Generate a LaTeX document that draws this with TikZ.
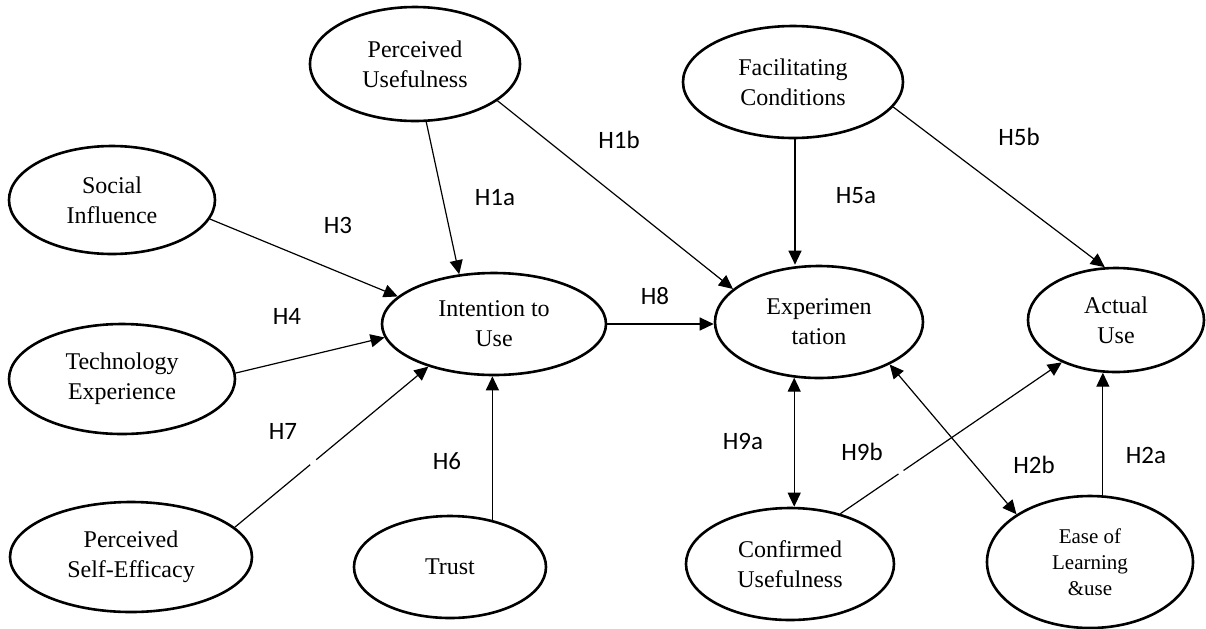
\documentclass[tikz,border=0pt]{standalone}
\usepackage{fontspec}
\setmainfont{Liberation Serif}
\newfontfamily\hypfont{Carlito}
\usetikzlibrary{shapes.geometric,arrows.meta}

\tikzset{
  construct/.style={ellipse, draw, line width=1.3pt, inner sep=0pt, align=center,
    font=\fontsize{12}{15}\selectfont},
  hyp/.style={inner sep=0pt, font=\hypfont\fontsize{12.5}{15}\selectfont},
  tip/.style={Triangle[length=7pt,width=6.5pt]},
  arr/.style={-{Triangle[length=7pt,width=6.5pt]}, line width=0.6pt},
  darr/.style={{Triangle[length=7pt,width=6.5pt]}-{Triangle[length=7pt,width=6.5pt]}, line width=0.6pt},
  gap/.style={white, line width=1.6pt}
}

\begin{document}
\begin{tikzpicture}[x=0.5pt,y=-0.5pt]
\useasboundingbox (0,0) rectangle (1206,628);

% constructs (minimum width/height in pt = horizontal/vertical radius in units)
\node[construct, minimum width=105pt, minimum height=57pt] (pu) at (415,64) {Perceived\\Usefulness};
\node[construct, minimum width=110pt, minimum height=56pt] (fc) at (793,82) {Facilitating\\Conditions};
\node[construct, minimum width=103pt, minimum height=54pt] (si) at (112,200) {Social\\Influence};
\node[construct, minimum width=112pt, minimum height=51pt] (iu) at (494,324) {Intention to\\Use};
\node[construct, minimum width=104pt, minimum height=56pt] (ex) at (819,322) {Experimen\\tation};
\node[construct, minimum width=88pt, minimum height=52pt] (au) at (1116,320) {Actual\\Use};
\node[construct, minimum width=113pt, minimum height=55pt] (te) at (122,379) {Technology\\Experience};
\node[construct, minimum width=121pt, minimum height=55pt] (pse) at (131,557) {Perceived\\Self-Efficacy};
\node[construct, minimum width=96pt, minimum height=51pt] (trust) at (450,567) {Trust};
\node[construct, minimum width=104pt, minimum height=56pt] (cu) at (790,564) {Confirmed\\Usefulness};
\node[construct, minimum width=103pt, minimum height=66pt, font=\fontsize{10.5}{13}\selectfont] (el) at (1090,562) {Ease of\\Learning\\\&use};

% hypotheses paths
\draw[arr] (pu.-79) -- (iu.125);
\draw[arr] (pu.-24) -- (ex.159);
\draw[arr] (si.-11) -- (iu.164);
\draw[arr] (te.3) -- (iu.187);
\draw[arr] (pse.16) -- coordinate[pos=0.39] (g1a) coordinate[pos=0.42] (g1b) (iu.213);
\draw[arr] (trust.48) -- (trust.48 |- iu.south);
\draw[arr] (iu.east) -- (iu.east -| ex.west);
\draw[arr] (fc.-88) -- (fc.-88 |- ex.north);
\draw[arr] (fc.-14) -- (au.102);
\draw[darr] (ex.-114) -- (ex.-114 |- cu.north);
\draw[darr] (ex.-31) -- (el.147);
\draw[arr] (cu.45) -- coordinate[pos=0.263] (g2a) coordinate[pos=0.285] (g2b) (au.218);
\draw[arr] (au.-104 |- el.north) -- (au.-104);

% small breaks in two of the lines
\draw[gap] (g1a) -- (g1b);
\draw[gap] (g2a) -- (g2b);

% hypothesis labels
\node[hyp] (h1b) at (619,140) {H1b};
\node[hyp] (h1a) at (495,198) {H1a};
\node[hyp] (h3) at (338,225) {H3};
\node[hyp] (h5a) at (856,196) {H5a};
\node[hyp] (h5b) at (1019,137) {H5b};
\node[hyp] (h4) at (287,316) {H4};
\node[hyp] (h8) at (655,296) {H8};
\node[hyp] (h7) at (283,431) {H7};
\node[hyp] (h6) at (447,461) {H6};
\node[hyp] (h9a) at (743,441) {H9a};
\node[hyp] (h9b) at (862,452) {H9b};
\node[hyp] (h2b) at (1034,465) {H2b};
\node[hyp] (h2a) at (1146,455) {H2a};
\end{tikzpicture}
\end{document}
